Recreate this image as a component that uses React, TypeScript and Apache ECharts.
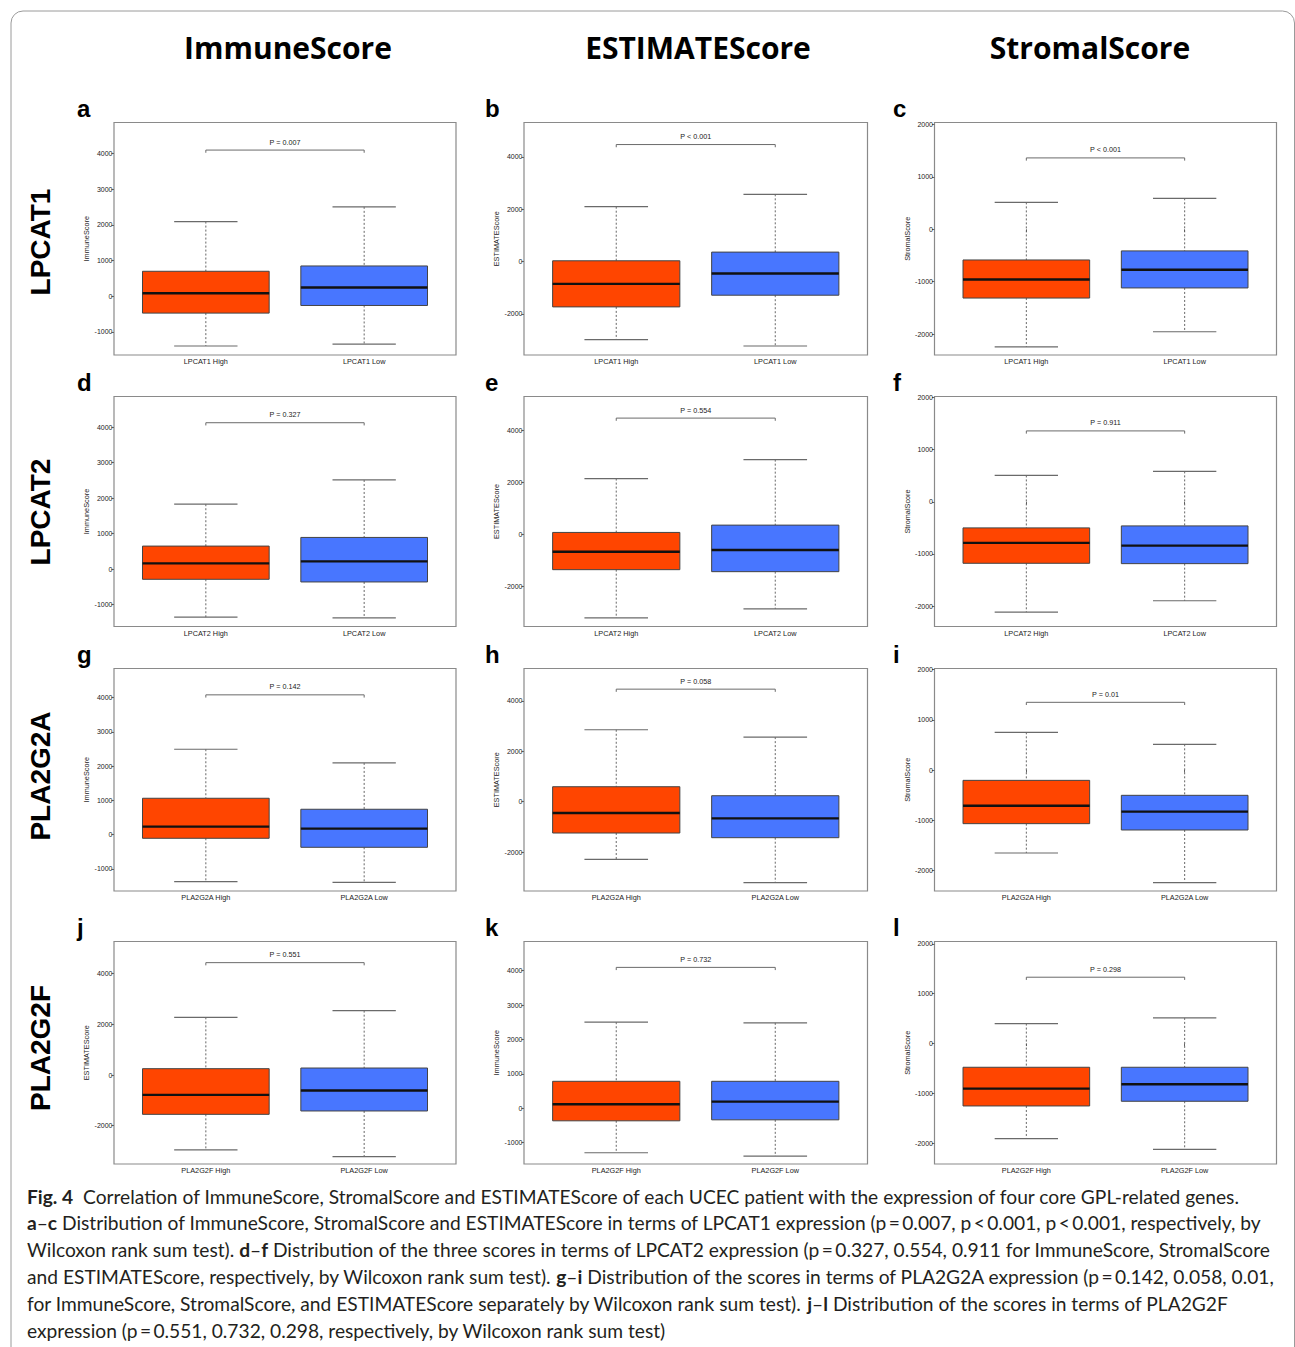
import React, { useEffect, useRef } from "react";
import * as echarts from "echarts";

const W = 1295;
const H = 1347;

// ---------- data ----------
const columnTitles = ["ImmuneScore", "ESTIMATEScore", "StromalScore"];
const genes = ["LPCAT1", "LPCAT2", "PLA2G2A", "PLA2G2F"];
const panelLetters = ["a", "b", "c", "d", "e", "f", "g", "h", "i", "j", "k", "l"];
const yNames = [
  "ImmuneScore", "ESTIMATEScore", "StromalScore",
  "ImmuneScore", "ESTIMATEScore", "StromalScore",
  "ImmuneScore", "ESTIMATEScore", "StromalScore",
  "ESTIMATEScore", "ImmuneScore", "StromalScore",
];
const pLabels = [
  "P = 0.007", "P < 0.001", "P < 0.001",
  "P = 0.327", "P = 0.554", "P = 0.911",
  "P = 0.142", "P = 0.058", "P = 0.01",
  "P = 0.551", "P = 0.732", "P = 0.298",
];
// [min, Q1, median, Q3, max]
const highBoxes = [
  [-1395, -474, 84, 698, 2090],
  [-2989, -1737, -856, 26, 2094],
  [-2244, -1312, -958, -585, 514],
  [-1358, -290, 159, 646, 1826],
  [-3218, -1359, -667, 77, 2154],
  [-2115, -1179, -788, -500, 506],
  [-1372, -107, 234, 1061, 2491],
  [-2286, -1242, -449, 595, 2855],
  [-1652, -1068, -710, -206, 750],
  [-2954, -1550, -781, 252, 2278],
  [-1295, -367, 116, 783, 2502],
  [-1906, -1251, -903, -475, 401],
];
const lowBoxes = [
  [-1340, -260, 242, 847, 2502],
  [-3231, -1290, -460, 358, 2567],
  [-1955, -1119, -772, -412, 592],
  [-1376, -365, 215, 890, 2509],
  [-2872, -1436, -603, 359, 2885],
  [-1897, -1186, -840, -462, 583],
  [-1392, -370, 175, 740, 2092],
  [-3211, -1427, -661, 238, 2564],
  [-2242, -1194, -829, -504, 511],
  [-3219, -1417, -609, 278, 2543],
  [-1391, -338, 193, 783, 2483],
  [-2120, -1157, -816, -475, 515],
];
const bracketLevels = [4093, 4470, 1363, 4122, 4487, 1359, 4078, 4467, 1347, 4437, 4097, 1331];
const yMins = [-1647, -3576, -2399, -1620, -3551, -2391, -1645, -3542, -2408, -3510, -1623, -2415];
const yMaxs = [4865, 5313, 2039, 4861, 5320, 2019, 4847, 5286, 2020, 5272, 4850, 2047];
const immuneTicks = [-1000, 0, 1000, 2000, 3000, 4000];
const estimateTicks = [-2000, 0, 2000, 4000];
const stromalTicks = [-2000, -1000, 0, 1000, 2000];
const captionLines = [
  "{b|Fig. 4}  Correlation of ImmuneScore, StromalScore and ESTIMATEScore of each UCEC patient with the expression of four core GPL-related genes.",
  "{b|a}–{b|c} Distribution of ImmuneScore, StromalScore and ESTIMATEScore in terms of LPCAT1 expression (p\u2009=\u20090.007, p\u2009<\u20090.001, p\u2009<\u20090.001, respectively, by",
  "Wilcoxon rank sum test). {b|d}–{b|f} Distribution of the three scores in terms of LPCAT2 expression (p\u2009=\u20090.327, 0.554, 0.911 for ImmuneScore, StromalScore",
  "and ESTIMATEScore, respectively, by Wilcoxon rank sum test). {b|g}–{b|i} Distribution of the scores in terms of PLA2G2A expression (p\u2009=\u20090.142, 0.058, 0.01,",
  "for ImmuneScore, StromalScore, and ESTIMATEScore separately by Wilcoxon rank sum test). {b|j}–{b|l} Distribution of the scores in terms of PLA2G2F",
  "expression (p\u2009=\u20090.551, 0.732, 0.298, respectively, by Wilcoxon rank sum test)",
];

// ---------- layout ----------
const colLeft = [114, 524, 934.5];
const colWidth = [342, 343.5, 342];
const rowTop = [122.5, 396.5, 668.5, 941.5];
const rowHeight = [232.5, 230, 222.5, 222.5];
const colCenter = [288, 698, 1090];
const letterX = [77, 485, 893];
const rowLabelY = [242, 512, 776, 1048];

const RED = "#FF4500";
const BLUE = "#4876FF";
const AXIS_FONT = "Liberation Sans";
const CAPTION_SIZE = 19.2;

function ticksFor(name: string) {
  if (name === "ImmuneScore") return immuneTicks;
  if (name === "ESTIMATEScore") return estimateTicks;
  return stromalTicks;
}

function fmtTick(v: number) {
  return v < 0 ? "-" + Math.abs(Math.round(v)) : String(Math.round(v));
}

function buildOption() {
  const grid: any[] = [];
  const xAxis: any[] = [];
  const yAxis: any[] = [];
  const series: any[] = [];
  const graphic: any[] = [];

  for (let i = 0; i < 12; i++) {
    const row = Math.floor(i / 3);
    const col = i % 3;
    const gene = genes[row];
    const xLabels = [gene + " High", gene + " Low"];
    grid.push({
      left: colLeft[col],
      top: rowTop[row],
      width: colWidth[col],
      height: rowHeight[row],
      show: true,
      borderColor: "#8a8a8a",
      borderWidth: 1.2,
      backgroundColor: "transparent",
    });
    xAxis.push({
      gridIndex: i,
      type: "value",
      min: 0.42,
      max: 2.58,
      axisLine: { show: false },
      splitLine: { show: false },
      axisTick: { show: true, customValues: [1, 2], length: 2.5, lineStyle: { color: "#666" } },
      axisLabel: {
        customValues: [1, 2],
        formatter: (v: number) => xLabels[Math.round(v) - 1] || "",
        fontSize: 7.3,
        fontFamily: AXIS_FONT,
        color: "#222",
        margin: 3,
      },
    });
    const ticks = ticksFor(yNames[i]);
    yAxis.push({
      gridIndex: i,
      type: "value",
      min: yMins[i],
      max: yMaxs[i],
      name: yNames[i],
      nameLocation: "middle",
      nameGap: 24,
      nameTextStyle: { fontSize: 7.3, fontFamily: AXIS_FONT, color: "#222" },
      axisLine: { show: false },
      splitLine: { show: false },
      axisTick: { show: true, customValues: ticks, length: 2.5, lineStyle: { color: "#666" } },
      axisLabel: {
        customValues: ticks,
        formatter: fmtTick,
        fontSize: 7,
        fontFamily: AXIS_FONT,
        color: "#222",
        margin: 1.5,
      },
    });
    series.push({
      type: "custom",
      xAxisIndex: i,
      yAxisIndex: i,
      encode: { x: 0, y: [1, 2, 3, 4, 5] },
      data: [
        [1, ...highBoxes[i], 0],
        [2, ...lowBoxes[i], 1],
      ],
      renderItem: (params: any, api: any) => {
        const x = api.value(0);
        const lo = api.value(1);
        const q1 = api.value(2);
        const med = api.value(3);
        const q3 = api.value(4);
        const hi = api.value(5);
        const pHi = api.coord([x, hi]);
        const pLo = api.coord([x, lo]);
        const pQ1 = api.coord([x, q1]);
        const pQ3 = api.coord([x, q3]);
        const pMed = api.coord([x, med]);
        const half = api.size([0.4, 0])[0];
        const cap = api.size([0.2, 0])[0];
        const cx = pHi[0];
        const fill = api.value(6) === 0 ? RED : BLUE;
        const dash = { stroke: "#555", lineWidth: 0.9, lineDash: [2, 2] };
        const capStyle = { stroke: "#6a6a6a", lineWidth: 1.2 };
        return {
          type: "group",
          children: [
            { type: "line", shape: { x1: cx, y1: pHi[1], x2: cx, y2: pQ3[1] }, style: dash },
            { type: "line", shape: { x1: cx, y1: pQ1[1], x2: cx, y2: pLo[1] }, style: dash },
            { type: "line", shape: { x1: cx - cap, y1: pHi[1], x2: cx + cap, y2: pHi[1] }, style: capStyle },
            { type: "line", shape: { x1: cx - cap, y1: pLo[1], x2: cx + cap, y2: pLo[1] }, style: capStyle },
            {
              type: "rect",
              shape: { x: cx - half, y: pQ3[1], width: 2 * half, height: pQ1[1] - pQ3[1] },
              style: { fill, stroke: "#444", lineWidth: 1 },
            },
            {
              type: "line",
              shape: { x1: cx - half, y1: pMed[1], x2: cx + half, y2: pMed[1] },
              style: { stroke: "#111", lineWidth: 2.4 },
            },
          ],
        };
      },
    });
    const label = pLabels[i];
    series.push({
      type: "custom",
      xAxisIndex: i,
      yAxisIndex: i,
      encode: { x: [0, 1], y: 2 },
      data: [[1, 2, bracketLevels[i]]],
      renderItem: (params: any, api: any) => {
        const a = api.coord([api.value(0), api.value(2)]);
        const b = api.coord([api.value(1), api.value(2)]);
        const st = { stroke: "#6a6a6a", lineWidth: 1 };
        return {
          type: "group",
          children: [
            { type: "line", shape: { x1: a[0], y1: a[1], x2: b[0], y2: b[1] }, style: st },
            { type: "line", shape: { x1: a[0], y1: a[1], x2: a[0], y2: a[1] + 2.7 }, style: st },
            { type: "line", shape: { x1: b[0], y1: b[1], x2: b[0], y2: b[1] + 2.7 }, style: st },
            {
              type: "text",
              x: (a[0] + b[0]) / 2,
              y: a[1] - 8,
              style: {
                text: label,
                align: "center",
                verticalAlign: "middle",
                fontSize: 7.2,
                fontFamily: AXIS_FONT,
                fill: "#222",
              },
            },
          ],
        };
      },
    });
    graphic.push({
      type: "text",
      x: letterX[col],
      y: rowTop[row] - 2,
      style: {
        text: panelLetters[i],
        fontSize: 24,
        fontWeight: "bold",
        fontFamily: "Liberation Sans",
        fill: "#000",
        verticalAlign: "bottom",
      },
    });
  }

  // outer rounded border
  graphic.push({
    type: "rect",
    shape: { x: 11, y: 11, width: 1283.5, height: 1420, r: 12 },
    style: { fill: "none", stroke: "#9a9a9a", lineWidth: 1 },
  });
  // column titles
  columnTitles.forEach((t, c) => {
    graphic.push({
      type: "text",
      x: colCenter[c],
      y: 47,
      style: {
        text: t,
        align: "center",
        verticalAlign: "middle",
        fontSize: 30,
        fontWeight: "bold",
        fontFamily: "Open Sans",
        fill: "#000",
      },
    });
  });
  // row labels
  genes.forEach((g, r) => {
    graphic.push({
      type: "text",
      x: 40,
      y: rowLabelY[r],
      rotation: Math.PI / 2,
      style: {
        text: g,
        align: "center",
        verticalAlign: "middle",
        fontSize: 28,
        fontWeight: "bold",
        fontFamily: "Liberation Sans",
        fill: "#000",
      },
    });
  });
  // caption
  captionLines.forEach((line, k) => {
    graphic.push({
      type: "text",
      x: 27,
      y: 1196 + k * 26.8,
      style: {
        text: line,
        verticalAlign: "middle",
        fontSize: CAPTION_SIZE,
        fontFamily: "Lato",
        fill: "#231f20",
        rich: {
          b: { fontWeight: "bold", fontSize: CAPTION_SIZE, fontFamily: "Lato", fill: "#231f20" },
        },
      },
    });
  });

  return {
    animation: false,
    backgroundColor: "#fff",
    grid,
    xAxis,
    yAxis,
    series,
    graphic,
  };
}

export default function App() {
  const ref = useRef<HTMLDivElement>(null);
  useEffect(() => {
    document.body.style.margin = "0";
    const chart = echarts.init(ref.current!, null, { renderer: "svg", width: W, height: H });
    chart.setOption(buildOption() as any);
    return () => chart.dispose();
  }, []);
  return <div ref={ref} style={{ width: W, height: H }} />;
}
